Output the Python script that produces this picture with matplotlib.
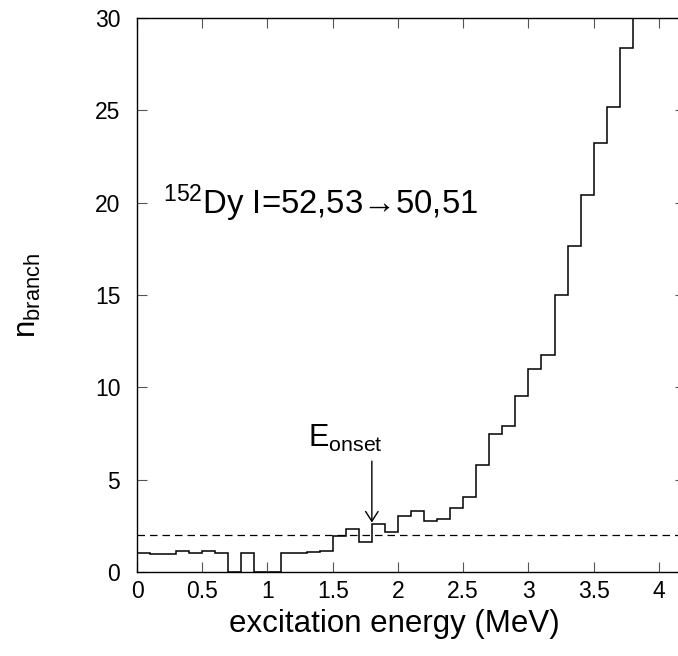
import matplotlib

matplotlib.use("Agg")
import matplotlib.pyplot as plt
import numpy as np

# histogram bins, 0.1 MeV wide
bin_edges = np.round(np.arange(0.0, 3.95, 0.1), 2)
n_branch = [
    1.02, 0.98, 0.98, 1.13, 1.02, 1.13, 1.02, 0.0, 1.02, 0.0,
    0.0, 1.02, 1.02, 1.07, 1.15, 1.94, 2.33, 1.64, 2.62, 2.16,
    3.05, 3.30, 2.75, 2.88, 3.45, 4.05, 5.78, 7.45, 7.93, 9.55,
    10.97, 11.73, 15.0, 17.68, 20.44, 23.25, 25.2, 28.4, 32.0,
]
threshold = 2.0
e_onset = 1.8

x_ticks = [0, 0.5, 1, 1.5, 2, 2.5, 3, 3.5, 4]
x_tick_labels = ["0", "0.5", "1", "1.5", "2", "2.5", "3", "3.5", "4"]
y_ticks = [0, 5, 10, 15, 20, 25, 30]


def main():
    plt.rcParams["font.family"] = ["Liberation Sans", "DejaVu Sans"]
    plt.rcParams["mathtext.fontset"] = "custom"
    plt.rcParams["mathtext.rm"] = "Liberation Sans"
    plt.rcParams["mathtext.it"] = "Liberation Sans"

    fig = plt.figure(figsize=(6.78, 6.56), dpi=100)
    # right spine sits just outside the picture, like the original
    ax = fig.add_axes([137 / 678, 1 - 572 / 656, 548 / 678, 554 / 656])

    ax.stairs(n_branch, bin_edges, baseline=None, color="black", lw=1.1)
    ax.axhline(threshold, color="black", lw=0.9, ls=(0, (6, 4)))

    ax.annotate("", xy=(e_onset, 2.68), xytext=(e_onset, 6.0),
                arrowprops=dict(arrowstyle="->,head_length=0.7,head_width=0.45",
                                lw=1.0, color="black", shrinkA=0, shrinkB=0,
                                mutation_scale=10))
    ax.text(1.31, 6.75, r"$\mathregular{E_{onset}}$", fontsize=22, va="baseline")
    ax.text(0.2, 19.4, r"$\mathregular{^{152}}$Dy I=52,53→50,51",
            fontsize=23.7, va="baseline")

    ax.set_xlim(0, 4.2)
    ax.set_ylim(0, 30)
    ax.set_xticks(x_ticks)
    ax.set_xticklabels(x_tick_labels)
    ax.set_yticks(y_ticks)
    ax.tick_params(direction="in", length=7, width=0.8, color="#555555",
                   top=True, right=True, labelsize=16.5)
    ax.tick_params(axis="x", pad=6)
    ax.tick_params(axis="y", pad=12)
    for sp in ax.spines.values():
        sp.set_linewidth(1.0)

    ax.set_xlabel("excitation energy (MeV)", fontsize=22.5)
    ax.xaxis.set_label_coords(0.47, -0.066)
    ax.set_ylabel(r"$\mathregular{n_{branch}}$", fontsize=22.5)
    ax.yaxis.set_label_coords(-0.172, 0.5)

    fig.savefig("out.png", dpi=100)


if __name__ == "__main__":
    main()
